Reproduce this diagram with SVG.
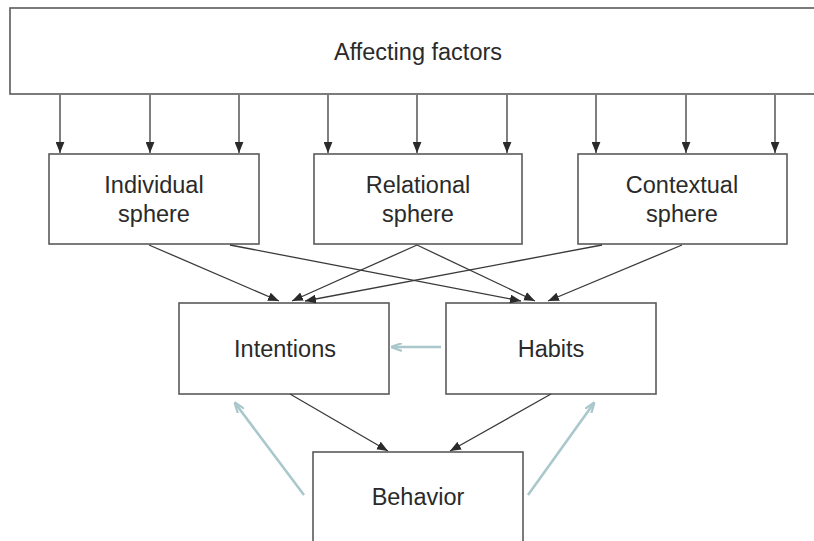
<svg xmlns="http://www.w3.org/2000/svg" width="814" height="541" viewBox="0 0 814 541">
  <style>
    .box { fill: #ffffff; stroke: #5a5a5a; stroke-width: 1.6; }
    .lbl { font-family: "Liberation Sans", Arial, sans-serif; font-size: 23.5px; fill: #2a2a2a; text-anchor: middle; }
    .dark { stroke: #3a3a3a; stroke-width: 1.3; fill: none; marker-end: url(#headDark); }
    .light { stroke: #aac8cc; stroke-width: 2.6; fill: none; marker-end: url(#headLight); }
  </style>
  <defs>
    <marker id="headDark" viewBox="0 0 10 8" refX="10" refY="4" markerUnits="userSpaceOnUse" markerWidth="11" markerHeight="9" orient="auto">
      <path d="M0,0 L10,4 L0,8 z" fill="#2a2a2a"/>
    </marker>
    <marker id="headLight" viewBox="0 0 10 8" refX="9" refY="4" markerUnits="userSpaceOnUse" markerWidth="11" markerHeight="9" orient="auto">
      <path d="M0,0.5 L10,4 L0,7.5" fill="none" stroke="#aac8cc" stroke-width="2"/>
    </marker>
  </defs>
  <rect width="814" height="541" fill="#ffffff"/>

  <g id="affecting-factors">
    <rect class="box" x="10" y="8" width="820" height="86"/>
    <text class="lbl" x="418" y="60">Affecting factors</text>
  </g>

  <g id="individual-sphere">
    <rect class="box" x="49" y="154" width="210" height="90"/>
    <text class="lbl" x="154" y="193">Individual</text>
    <text class="lbl" x="154" y="222">sphere</text>
  </g>

  <g id="relational-sphere">
    <rect class="box" x="314" y="154" width="208" height="90"/>
    <text class="lbl" x="418" y="193">Relational</text>
    <text class="lbl" x="418" y="222">sphere</text>
  </g>

  <g id="contextual-sphere">
    <rect class="box" x="578" y="154" width="209" height="90"/>
    <text class="lbl" x="682" y="193">Contextual</text>
    <text class="lbl" x="682" y="222">sphere</text>
  </g>

  <g id="intentions">
    <rect class="box" x="179" y="303" width="210" height="91"/>
    <text class="lbl" x="285" y="357">Intentions</text>
  </g>

  <g id="habits">
    <rect class="box" x="446" y="303" width="210" height="91"/>
    <text class="lbl" x="551" y="357">Habits</text>
  </g>

  <g id="behavior">
    <rect class="box" x="313" y="452" width="210" height="95"/>
    <text class="lbl" x="418" y="505">Behavior</text>
  </g>

  <g id="connectors">
    <!-- affecting factors into each sphere -->
    <line class="dark" x1="60" y1="95" x2="60" y2="153"/>
    <line class="dark" x1="150" y1="95" x2="150" y2="153"/>
    <line class="dark" x1="239" y1="95" x2="239" y2="153"/>
    <line class="dark" x1="328" y1="95" x2="328" y2="153"/>
    <line class="dark" x1="417" y1="95" x2="417" y2="153"/>
    <line class="dark" x1="507" y1="95" x2="507" y2="153"/>
    <line class="dark" x1="596" y1="95" x2="596" y2="153"/>
    <line class="dark" x1="686" y1="95" x2="686" y2="153"/>
    <line class="dark" x1="775" y1="95" x2="775" y2="153"/>

    <!-- spheres into intentions and habits -->
    <line class="dark" x1="149" y1="245" x2="279" y2="301"/>
    <line class="dark" x1="417" y1="245" x2="292" y2="301"/>
    <line class="dark" x1="602" y1="245" x2="305" y2="301"/>
    <line class="dark" x1="230" y1="245" x2="521" y2="301"/>
    <line class="dark" x1="417" y1="245" x2="535" y2="301"/>
    <line class="dark" x1="682" y1="245" x2="548" y2="301"/>

    <!-- intentions and habits into behavior -->
    <line class="dark" x1="290" y1="394" x2="388" y2="451"/>
    <line class="dark" x1="551" y1="394" x2="450" y2="451"/>

    <!-- feedback paths -->
    <line class="light" x1="441" y1="347" x2="392" y2="347"/>
    <line class="light" x1="304" y1="495" x2="235" y2="403"/>
    <line class="light" x1="528" y1="495" x2="594" y2="403"/>
  </g>
</svg>
